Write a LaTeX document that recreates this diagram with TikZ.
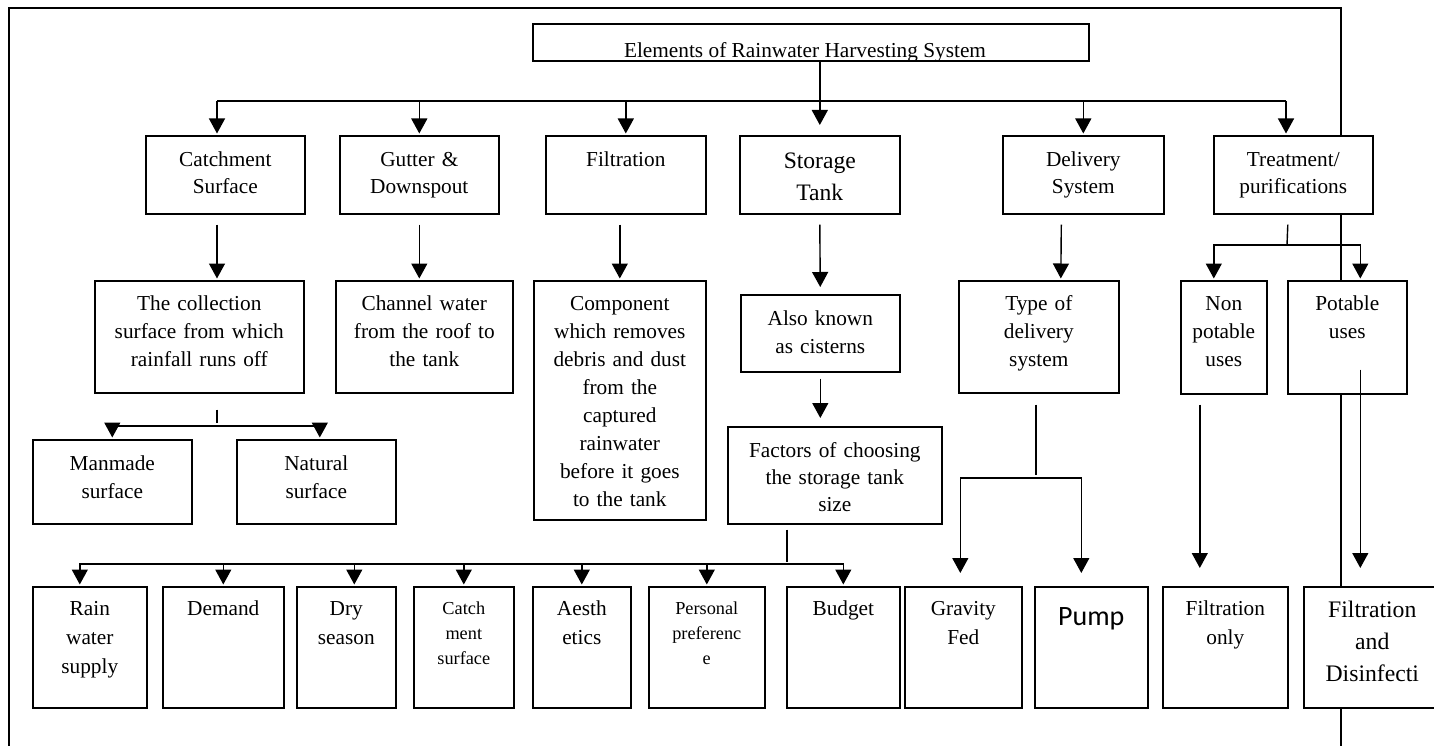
\documentclass[tikz,border=0pt]{standalone}
\usepackage{fontspec}
\setmainfont{Liberation Serif}
\newfontfamily\pumpfont{Carlito}
\usepackage{tikz}
\usetikzlibrary{arrows.meta,calc}

\begin{document}
\begin{tikzpicture}[x=1pt,y=-1pt,
  box/.style={draw,line width=1.6pt,fill=white,anchor=north west,inner xsep=0pt,inner ysep=0pt,
    align=center,font=\fontsize{21.3}{28}\selectfont},
  lvlone/.style={box,text height=31pt,text depth=47pt,font=\fontsize{21.3}{27}\selectfont},
  lvltwo/.style={box,text height=30pt,text depth=82pt},
  lvlfour/.style={box,text height=29pt,text depth=92pt,font=\fontsize{21.3}{29}\selectfont},
  smalltxt/.style={font=\fontsize{18.3}{25}\selectfont,text height=28pt,text depth=93pt},
  ln/.style={line width=1.4pt},
  arr/.style={ln,-{Triangle[length=15pt,width=16pt]},shorten >=1.5pt}]

 \useasboundingbox (0,0) rectangle (1434,746);
 \clip (0,0) rectangle (1434,746);
 \draw[line width=1.6pt] (9,760) -- (9,8) -- (1341,8) -- (1341,760);

 % title
 \draw (532,23) node[box,text width=556pt,text height=37pt,text depth=0pt] (elem) {};
 \begin{scope}
  \clip (elem.south west) rectangle (elem.north east);
  \draw (805,57.5) node[anchor=base,font=\fontsize{21.3}{28}\selectfont] (elemtxt) {Elements of Rainwater Harvesting System};
 \end{scope}

 % elements
 \draw (145,135) node[lvlone,text width=159pt] (catch) {Catchment\\Surface};
 \draw (339,135) node[lvlone,text width=159pt] (gutter) {Gutter \&\\Downspout};
 \draw (545,135) node[lvlone,text width=160pt] (filt) {Filtration};
 \draw (739,135) node[lvlone,text width=160pt,text height=33pt,text depth=45pt,
   font=\fontsize{23.6}{32}\selectfont] (store) {Storage\\Tank};
 \draw (1002,135) node[lvlone,text width=161pt] (deliv) {Delivery\\System};
 \draw (1213,135) node[lvlone,text width=159pt] (treat) {Treatment/\\purifications};

 % second row
 \draw (94,280) node[lvltwo,text width=209pt] (coll) {The collection\\surface from which\\rainfall runs off};
 \draw (335,280) node[lvltwo,text width=177pt] (chan) {Channel water\\from the roof to\\the tank};
 \draw (533,280) node[lvltwo,text width=172pt,text depth=209pt] (comp) {Component\\which removes\\debris and dust\\from the\\captured\\rainwater\\before it goes\\to the tank};
 \draw (740,294) node[box,text width=159pt,text height=31pt,text depth=46pt] (also) {Also known\\as cisterns};
 \draw (958,280) node[lvltwo,text width=160pt] (typ) {Type of\\delivery\\system};
 \draw (1180,280) node[lvltwo,text width=86pt,text depth=83pt] (nonpot) {Non\\potable\\uses};
 \draw (1287,280) node[lvltwo,text width=119pt,text depth=83pt] (pot) {Potable\\uses};

 % third row
 \draw (727,426) node[box,text width=214pt,text height=31pt,text depth=66pt,
   font=\fontsize{21.3}{27}\selectfont] (factors) {Factors of choosing\\the storage tank\\size};
 \draw (32,439) node[box,text width=159pt,text height=31pt,text depth=53pt] (manmade) {Manmade\\surface};
 \draw (236,439) node[box,text width=159pt,text height=31pt,text depth=53pt] (natural) {Natural\\surface};

 % bottom row
 \draw (32,586) node[lvlfour,text width=114pt] (rain) {Rain\\water\\supply};
 \draw (162,586) node[lvlfour,text width=121pt] (demand) {Demand};
 \draw (296,586) node[lvlfour,text width=99pt] (dry) {Dry\\season};
 \draw (413,586) node[lvlfour,smalltxt,text width=100pt] (catchsurf) {Catch\\ment\\surface};
 \draw (532,586) node[lvlfour,text width=98pt] (aesth) {Aesth\\etics};
 \draw (648,586) node[lvlfour,smalltxt,text width=116pt] (pers) {Personal\\preferenc\\e};
 \draw (786,586) node[lvlfour,text width=113pt] (budget) {Budget};
 \draw (904,586) node[lvlfour,text width=117pt] (grav) {Gravity\\Fed};
 \draw (1034,586) node[lvlfour,text width=113pt,text height=39pt,text depth=82pt,
   font=\pumpfont\fontsize{28}{32}\selectfont] (pump) {Pump};
 \draw (1162,586) node[lvlfour,text width=125pt] (filtonly) {Filtration\\only};
 \draw (1303,586) node[lvlfour,text width=137pt,text height=31pt,text depth=90pt,
   font=\fontsize{23.7}{32}\selectfont] (filtdis) {Filtration\\and\\Disinfecti};

 % title to elements
 \coordinate (busL) at (217,101);
 \coordinate (busR) at (1286,101);
 \draw[ln] (busL) -- (busR);
 \draw[arr,shorten >=10pt] (elem.south -| store.north) -- (store.north);
 \draw[arr] (busL) -- (catch.north -| busL);
 \draw[arr] (gutter.north |- busL) -- (gutter.north);
 \draw[arr] (filt.north |- busL) -- (filt.north);
 \draw[arr] (deliv.north |- busL) -- (deliv.north);
 \draw[arr] (busR) -- (treat.north -| busR);

 % elements to second row
 \draw[arr] ($(catch.south -| busL)+(0,10)$) -- (coll.north -| busL);
 \draw[arr] ($(gutter.south)+(0,10)$) -- (gutter.south |- chan.north);
 \draw[arr] ($(comp.north |- filt.south)+(0,10)$) -- (comp.north);
 \draw[arr,shorten >=7pt] ($(store.south)+(0,10)$) -- (also.north);
 \draw[arr,shorten >=8pt] ($(also.south)+(0,6)$) -- (also.south |- factors.north);
 \draw[arr] ($(deliv.south)+(-22,10)$) -- ($(typ.north)+(22,0)$);
 \coordinate (tsplit) at (1287,245);
 \draw[ln] ($(treat.south)+(-5.5,10)$) -- (tsplit);
 \draw[arr] (tsplit) -| ($(nonpot.north)+(-10,0)$);
 \draw[arr] (tsplit) -| ($(pot.north)+(13,0)$);

 % collection surface
 \draw[ln] ($(coll.south -| busL)+(0,16)$) -- ++(0,13);
 \coordinate (cbus) at (217,426);
 \draw[arr] (cbus) -| (manmade.north);
 \draw[arr] (cbus) -| ($(natural.north)+(3.5,0)$);

 % factors
 \draw[ln] ($(factors.south)+(-48,5)$) -- ++(0,32);
 \coordinate (fbus) at (786,564);
 \draw[arr] (fbus) -| ($(rain.north)+(-10,0)$);
 \draw[arr] (fbus) -| (budget.north);
 \draw[arr] (fbus -| demand.north) -- (demand.north);
 \draw[arr] ($(fbus -| dry.north)+(8,0)$) -- ($(dry.north)+(8,0)$);
 \draw[arr] (fbus -| catchsurf.north) -- (catchsurf.north);
 \draw[arr] (fbus -| aesth.north) -- (aesth.north);
 \draw[arr] (fbus -| pers.north) -- (pers.north);

 % delivery
 \draw[ln] ($(typ.south)+(-3,11)$) -- ++(0,70);
 \coordinate (tbus) at (1020,478);
 \draw[arr,shorten >=13pt] (tbus) -| ($(grav.north)+(-3,0)$);
 \draw[arr,shorten >=13pt] (tbus) -| ($(pump.north)+(-10,0)$);

 % treatment
 \draw[arr,shorten >=18pt] ($(nonpot.south)+(-24,10)$) coordinate (np) -- (np |- filtonly.north);
 \draw[arr,shorten >=18pt] ($(pot.south)+(13,-25)$) coordinate (pp) -- (pp |- filtdis.north);

\end{tikzpicture}
\end{document}
